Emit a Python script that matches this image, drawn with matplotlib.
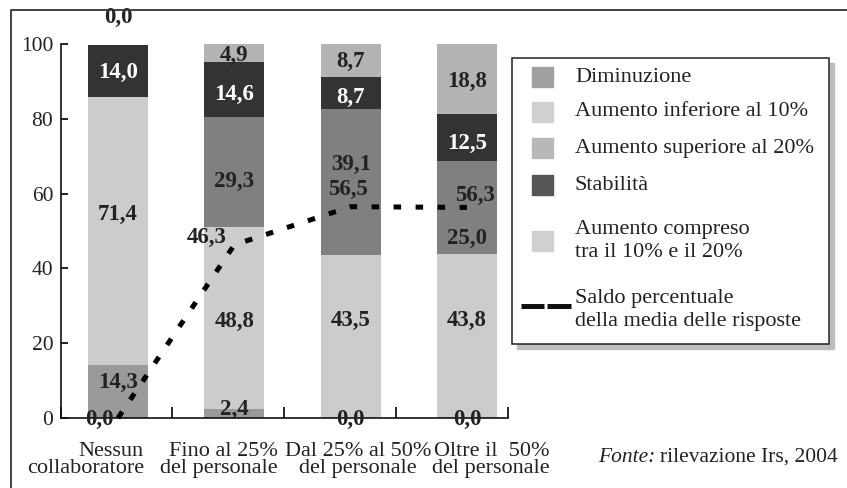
import numpy as np
import matplotlib.pyplot as plt
from matplotlib.patches import Rectangle

plt.rcParams['font.family'] = ['Liberation Serif', 'DejaVu Serif']

# Dati
categorie = ['Nessun\ncollaboratore', 'Fino al 25%\ndel personale',
             'Dal 25% al 50%\ndel personale', 'Oltre il  50%\ndel personale']
diminuzione = [14.3, 2.4, 0.0, 0.0]
inferiore_10 = [71.4, 48.8, 43.5, 43.8]
compreso = [0.0, 29.3, 39.1, 25.0]
stabilita = [14.0, 14.6, 8.7, 12.5]
superiore_20 = [0.0, 4.9, 8.7, 18.8]
saldo = [0.0, 46.3, 56.5, 56.3]

voci_legenda = ['Diminuzione', 'Aumento inferiore al 10%', 'Aumento superiore al 20%',
                'Stabilità', 'Aumento compreso\ntra il 10% e il 20%',
                'Saldo percentuale\ndella media delle risposte']

TXT = '#222222'
FS = 16
fig = plt.figure(figsize=(8.47, 4.88), dpi=100)
ax = fig.add_axes([61 / 847, 70 / 488, 447 / 847, 374 / 488])

x = np.arange(len(categorie))
w = 0.516
serie = [diminuzione, inferiore_10, compreso, stabilita, superiore_20]
colori = ['#9a9a9a', '#cccccc', '#808080', '#333333', '#b3b3b3']
# spostamenti verticali delle etichette rispetto al centro del segmento
nudge = [[2.3, 1.2, -0.5, -0.5],
         [4.3, -0.9, 4.2, 4.1],
         [0.0, -2.7, 4.8, -8.2],
         [-0.2, -1.4, -1.3, -1.7],
         [7.3, -0.5, -0.4, -0.8]]

base = np.zeros(len(x))
for vals, col, dn in zip(serie, colori, nudge):
    vals = np.array(vals)
    ax.bar(x, vals, w, bottom=base, color=col, zorder=2)
    for i, v in enumerate(vals):
        if col == '#808080' and v == 0:
            continue
        c = 'white' if col == '#333333' else TXT
        ax.text(x[i], base[i] + v / 2 + dn[i], f'{v:.1f}'.replace('.', ','),
                ha='center', va='center', fontsize=16.5, fontweight='bold',
                color=c, zorder=5, clip_on=False)
    base += vals

# Linea del saldo
ax.plot(x, saldo, color='black', lw=3.6, linestyle=(0, (1.5, 2.9)),
        dash_capstyle='butt', zorder=3, clip_on=False)
saldo_dx = [-0.16, -0.235, -0.02, 0.07]
saldo_dy = [-0.5, 2.1, 4.5, 3.3]
for i, v in enumerate(saldo):
    ax.text(x[i] + saldo_dx[i], v + saldo_dy[i], f'{v:.1f}'.replace('.', ','),
            ha='center', va='center', fontsize=16.5, fontweight='bold',
            color=TXT, zorder=5, clip_on=False)

ax.set_xlim(-0.49, 3.353)
ax.set_ylim(0, 100)
for s in ['top', 'right']:
    ax.spines[s].set_visible(False)
for s in ['left', 'bottom']:
    ax.spines[s].set_linewidth(1.2)
    ax.spines[s].set_color('#111111')
ax.set_yticks(range(0, 101, 20))
ax.tick_params(axis='y', direction='in', length=5, width=1.2, pad=5.5,
               labelsize=15.5, labelcolor=TXT)
ax.set_xticks([-0.49, 0.464, 1.427, 2.390, 3.353])
ax.set_xticklabels([])
ax.tick_params(axis='x', direction='in', length=8, width=1.2)

# Etichette delle categorie
lab_dx = [0.222, 0.375, 0.063, 0.713]
lab_ha = ['right', 'right', 'center', 'right']
for i, cat in enumerate(categorie):
    ax.text(x[i] + lab_dx[i], -0.064, cat, transform=ax.get_xaxis_transform(),
            ha=lab_ha[i], va='top', multialignment=lab_ha[i], fontsize=FS,
            color=TXT, linespacing=0.88, clip_on=False)

# Cornice, legenda e fonte
ov = fig.add_axes([0, 0, 1, 1])
ov.set_xlim(0, 847)
ov.set_ylim(488, 0)
ov.axis('off')
ov.plot([11, 11, 847], [488, 10, 10], color='#333333', lw=1.3)

ov.add_patch(Rectangle((517, 63), 317, 286, color='#bdbdbd', zorder=1))
ov.add_patch(Rectangle((512, 58), 317, 286, facecolor='white',
                       edgecolor='#222222', lw=1.1, zorder=2))
col_leg = ['#a0a0a0', '#d0d0d0', '#b8b8b8', '#555555', '#d0d0d0']
y_leg = [77, 112, 148, 185, 241, 310]
for i, voce in enumerate(voci_legenda):
    if i < 5:
        ov.add_patch(Rectangle((532, y_leg[i] - 10), 21, 20,
                               color=col_leg[i], zorder=3))
    else:
        ov.plot([521, 544], [y_leg[i] - 4, y_leg[i] - 4], color='#111111',
                lw=3.6, solid_capstyle='butt', zorder=3)
        ov.plot([547, 571], [y_leg[i] - 4, y_leg[i] - 4], color='#111111',
                lw=3.6, solid_capstyle='butt', zorder=3)
    ov.text(575, y_leg[i], voce, ha='left', va='center', fontsize=FS,
            color=TXT, linespacing=1.3, zorder=4)

t2 = ov.text(838, 457, 'rilevazione Irs, 2004', ha='right', va='center',
             fontsize=15.5, color=TXT)
ov.annotate('Fonte: ', xy=(0, 0), xycoords=t2, ha='right', va='bottom',
            fontsize=15.5, style='italic', color=TXT)

fig.savefig('out.png', dpi=100)
